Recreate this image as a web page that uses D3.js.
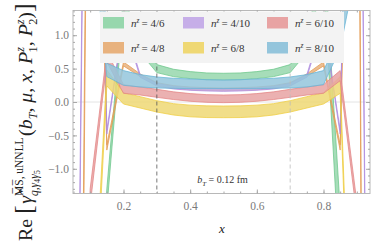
<!DOCTYPE html>
<html>
<head>
<meta charset="utf-8">
<script src="https://cdn.jsdelivr.net/npm/d3@7"></script>
<style>
  body { margin: 0; background: #fff; }
  svg { display: block; }
  text { font-family: "Liberation Serif", "DejaVu Serif", serif; }
</style>
</head>
<body>
<svg id="chart" width="382" height="243"></svg>
<script>
// x grid of the bands
const xGrid = [0.05, 0.1, 0.15, 0.2, 0.25, 0.3, 0.35, 0.4, 0.45, 0.5,
               0.55, 0.6, 0.65, 0.7, 0.75, 0.8, 0.85, 0.9, 0.95];

// band edges (upper / lower)
const n46Hi  = [-10, -6, -1.3, 1.6, 0.88, 0.56, 0.49, 0.455, 0.435, 0.43, 0.435, 0.455, 0.49, 0.56, 0.88, 2.4, -1.6, -8, -10];
const n46Lo  = [-11, -7, -1.6, 1.4, 0.74, 0.44, 0.38, 0.35, 0.33, 0.325, 0.33, 0.35, 0.38, 0.44, 0.74, 1.9, -2.6, -9, -11];
const n48Hi  = [-19, 10.5, -0.64, 0.6, 0.42, 0.29, 0.245, 0.225, 0.215, 0.21, 0.215, 0.225, 0.245, 0.29, 0.42, 0.6, -0.64, 10.5, -35];
const n48Lo  = [-20, 9.5, -0.72, 0.54, 0.38, 0.25, 0.205, 0.185, 0.175, 0.17, 0.175, 0.185, 0.205, 0.25, 0.38, 0.54, -0.72, 9.5, -36];
const n410Hi = [-10, 12.8, -0.42, 1.22, 0.41, 0.28, 0.235, 0.215, 0.205, 0.2, 0.205, 0.215, 0.235, 0.28, 0.41, 1.22, -0.42, 12.3, -16];
const n410Lo = [-10.5, 12.3, -0.48, 1.18, 0.37, 0.24, 0.195, 0.175, 0.165, 0.16, 0.165, 0.175, 0.195, 0.24, 0.37, 1.18, -0.48, 11.8, -16.5];
const n68Hi  = [-10, -4.2, 0.48, 0.14, 0.08, 0.02, -0.025, -0.047, -0.058, -0.06, -0.058, -0.047, -0.025, 0.02, 0.08, 0.14, 0.38, -6.6, -10];
const n68Lo  = [-11, -4.6, 0.24, -0.03, -0.09, -0.15, -0.195, -0.222, -0.233, -0.235, -0.233, -0.222, -0.195, -0.15, -0.09, -0.03, 0.13, -7, -11];
const n610Hi = [-8, -1.3, 0.75, 0.26, 0.225, 0.19, 0.152, 0.126, 0.11, 0.105, 0.11, 0.126, 0.152, 0.19, 0.225, 0.26, 0.47, -1.5, -8];
const n610Lo = [-8.5, -1.55, 0.6, 0.13, 0.105, 0.07, 0.037, 0.011, -0.005, -0.01, -0.005, 0.011, 0.037, 0.07, 0.105, 0.13, 0.32, -1.7, -8.5];
const n810Hi = [12, 8.75, 0.58, 0.47, 0.41, 0.375, 0.355, 0.345, 0.335, 0.33, 0.335, 0.345, 0.355, 0.375, 0.41, 0.47, 1.0, 3.4, 8];
const n810Lo = [8, 2.86, 0.38, 0.25, 0.225, 0.21, 0.205, 0.2, 0.2, 0.2, 0.2, 0.2, 0.205, 0.21, 0.225, 0.26, 0.8, 2.04, 5];

const ratioLabels = ["4/6", "4/8", "4/10", "6/8", "6/10", "8/10"];
const fills = ["#97d7ad", "#e8b27e", "#c6aee8", "#efd874", "#e8a3a3", "#94c5dc"];
const edges = ["#6cc68a", "#e39a50", "#ae8ade", "#efcd40", "#e38585", "#68b4d6"];
const hiSets = [n46Hi, n48Hi, n410Hi, n68Hi, n610Hi, n810Hi];
const loSets = [n46Lo, n48Lo, n410Lo, n68Lo, n610Lo, n810Lo];

const xTicksMajor = [0.2, 0.4, 0.6, 0.8];
const yTicksMajor = [-1, -0.5, 0, 0.5, 1];
const markLines = [0.3, 0.7];

const svg = d3.select('#chart');
const box = {left: 73, right: 370, top: 10.5, bottom: 193.5};

const x = d3.scaleLinear().domain([0.0485, 0.9395]).range([box.left, box.right]);
const y = d3.scaleLinear().domain([-1.37, 1.37]).range([box.bottom, box.top]);

svg.append('defs').append('clipPath').attr('id', 'plotclip')
  .append('rect')
  .attr('x', box.left).attr('y', box.top)
  .attr('width', box.right - box.left).attr('height', box.bottom - box.top);

// zero grid line
svg.append('line')
  .attr('x1', box.left).attr('x2', box.right)
  .attr('y1', y(0)).attr('y2', y(0))
  .style('stroke', '#e4e4e4').style('stroke-width', 1);

const plot = svg.append('g').attr('clip-path', 'url(#plotclip)');

ratioLabels.forEach((lab, i) => {
  const rows = xGrid.map((xv, j) => ({x: xv, hi: hiSets[i][j], lo: loSets[i][j]}));
  const area = d3.area().x(d => x(d.x)).y0(d => y(d.lo)).y1(d => y(d.hi));
  plot.append('path').datum(rows)
    .attr('d', area)
    .style('fill', fills[i]).style('fill-opacity', 0.85)
    .style('stroke', 'none');
  ['hi', 'lo'].forEach(k => {
    plot.append('path').datum(rows)
      .attr('d', d3.line().x(d => x(d.x)).y(d => y(d[k])))
      .style('fill', 'none')
      .style('stroke', edges[i]).style('stroke-width', 0.9).style('stroke-opacity', 0.85);
  });
});

// dashed markers
markLines.forEach((v, i) => {
  svg.append('line')
    .attr('x1', x(v)).attr('x2', x(v))
    .attr('y1', box.top).attr('y2', box.bottom)
    .style('stroke', i == 0 ? '#555' : '#bbb')
    .style('stroke-width', 0.8)
    .style('stroke-dasharray', '4,3');
});

// frame
svg.append('rect')
  .attr('x', box.left).attr('y', box.top)
  .attr('width', box.right - box.left).attr('height', box.bottom - box.top)
  .style('fill', 'none').style('stroke', '#b8b8b8').style('stroke-width', 1);

function styleAxis(g) {
  g.select('.domain').remove();
  g.selectAll('.tick line').style('stroke', '#a8a8a8');
  g.selectAll('.tick text')
    .style('font-family', '"Liberation Serif", "DejaVu Serif", serif')
    .style('font-size', '11.5px').style('fill', '#7a7a7a');
}

const yMinor = d3.range(-13, 14).map(v => v / 10);
const xMinor = d3.range(1, 19).map(v => v / 20);

svg.append('g').attr('transform', `translate(${box.left},0)`)
  .call(d3.axisLeft(y).tickValues(yMinor).tickSize(-2).tickFormat('')).call(styleAxis);
svg.append('g').attr('transform', `translate(${box.left},0)`)
  .call(d3.axisLeft(y).tickValues(yTicksMajor).tickSize(-4).tickPadding(4).tickFormat(d3.format('.1f'))).call(styleAxis);
svg.append('g').attr('transform', `translate(${box.right},0)`)
  .call(d3.axisRight(y).tickValues(yMinor).tickSize(-2).tickFormat('')).call(styleAxis);
svg.append('g').attr('transform', `translate(${box.right},0)`)
  .call(d3.axisRight(y).tickValues(yTicksMajor).tickSize(-4).tickFormat('')).call(styleAxis);

svg.append('g').attr('transform', `translate(0,${box.bottom})`)
  .call(d3.axisBottom(x).tickValues(xMinor).tickSize(-2).tickFormat('')).call(styleAxis);
svg.append('g').attr('transform', `translate(0,${box.bottom})`)
  .call(d3.axisBottom(x).tickValues(xTicksMajor).tickSize(-4).tickPadding(8).tickFormat(d3.format('.1f'))).call(styleAxis);
svg.append('g').attr('transform', `translate(0,${box.top})`)
  .call(d3.axisTop(x).tickValues(xMinor).tickSize(-2).tickFormat('')).call(styleAxis);
svg.append('g').attr('transform', `translate(0,${box.top})`)
  .call(d3.axisTop(x).tickValues(xTicksMajor).tickSize(-4).tickFormat('')).call(styleAxis);

// legend
const legend = svg.append('g');
legend.append('rect')
  .attr('x', 100).attr('y', 11.5).attr('width', 244).attr('height', 51.5)
  .style('fill', '#f3f3f3');

const colX = [103, 183, 267];
const rowY = [17, 42];
ratioLabels.forEach((lab, i) => {
  const c = Math.floor(i / 2), r = i % 2;
  legend.append('rect')
    .attr('x', colX[c]).attr('y', rowY[r]).attr('width', 21).attr('height', 11.5)
    .style('fill', fills[i]);
  const t = legend.append('text')
    .attr('x', colX[c] + 28).attr('y', rowY[r] + 10)
    .style('font-size', '11px').style('fill', '#333');
  t.append('tspan').style('font-style', 'italic').text('n');
  t.append('tspan').attr('dy', -4.5).style('font-size', '7.5px').style('font-style', 'italic').text('z');
  t.append('tspan').attr('dy', 4.5).attr('dx', 2).text('= ' + lab);
});

// annotation
const ann = svg.append('text')
  .attr('x', x(0.5) - 1).attr('y', 183)
  .style('text-anchor', 'middle').style('font-size', '10px').style('fill', '#333');
ann.append('tspan').style('font-style', 'italic').text('b');
ann.append('tspan').attr('dy', 2.5).style('font-size', '7px').style('font-style', 'italic').text('T');
ann.append('tspan').attr('dy', -2.5).text(' = 0.12 fm');

// x label
svg.append('text')
  .attr('x', 222).attr('y', 233)
  .style('text-anchor', 'middle').style('font-size', '13px').style('font-style', 'italic').style('fill', '#222')
  .text('x');

// y label
const yl = svg.append('g');
const ylt = yl.append('text')
  .style('font-size', '13px').style('fill', '#222');
ylt.append('tspan').text('Re ');
ylt.append('tspan').style('font-size', '17px').text('[');
ylt.append('tspan').attr('dx', 1).style('font-style', 'italic').text('γ\u0302');
const sup = ylt.append('tspan').attr('dy', -6).style('font-size', '7.5px').text('M\u0305S\u0305, uNNLL');
const sub = ylt.append('tspan').attr('dy', 10).style('font-size', '7.5px');
sub.append('tspan').style('font-style', 'italic').text('q,γ');
sub.append('tspan').attr('dy', 1.5).style('font-size', '5.5px').text('4');
sub.append('tspan').attr('dy', -1.5).style('font-style', 'italic').text('γ');
sub.append('tspan').attr('dy', 1.5).style('font-size', '5.5px').text('5');
const rest = ylt.append('tspan').attr('dy', -5.5);
rest.text('(');
ylt.append('tspan').style('font-style', 'italic').text('b');
ylt.append('tspan').attr('dy', 3).style('font-size', '8px').style('font-style', 'italic').text('T');
ylt.append('tspan').attr('dy', -3).text(', ');
ylt.append('tspan').style('font-style', 'italic').text('μ');
ylt.append('tspan').text(', ');
ylt.append('tspan').style('font-style', 'italic').text('x');
ylt.append('tspan').text(', ');
ylt.append('tspan').style('font-style', 'italic').text('P');
ylt.append('tspan').attr('dy', -5).style('font-size', '8px').style('font-style', 'italic').text('z');
ylt.append('tspan').attr('dy', 8).attr('dx', -3.5).style('font-size', '8px').text('1');
ylt.append('tspan').attr('dy', -3).text(', ');
ylt.append('tspan').style('font-style', 'italic').text('P');
ylt.append('tspan').attr('dy', -5).style('font-size', '8px').style('font-style', 'italic').text('z');
ylt.append('tspan').attr('dy', 8).attr('dx', -3.5).style('font-size', '8px').text('2');
ylt.append('tspan').attr('dy', -3).text(')');
ylt.append('tspan').style('font-size', '17px').text(']');

// stack the sub under the sup
const supW = sup.node().getComputedTextLength();
const subW = sub.node().getComputedTextLength();
sub.attr('dx', -supW);
rest.attr('dx', Math.max(0, supW - subW) + 1);

const bb = ylt.node().getBBox();
const k = 238 / bb.width;
ylt.attr('x', -bb.width / 2);
yl.attr('transform', `translate(32,122) rotate(-90) scale(${k})`);
</script>
</body>
</html>
